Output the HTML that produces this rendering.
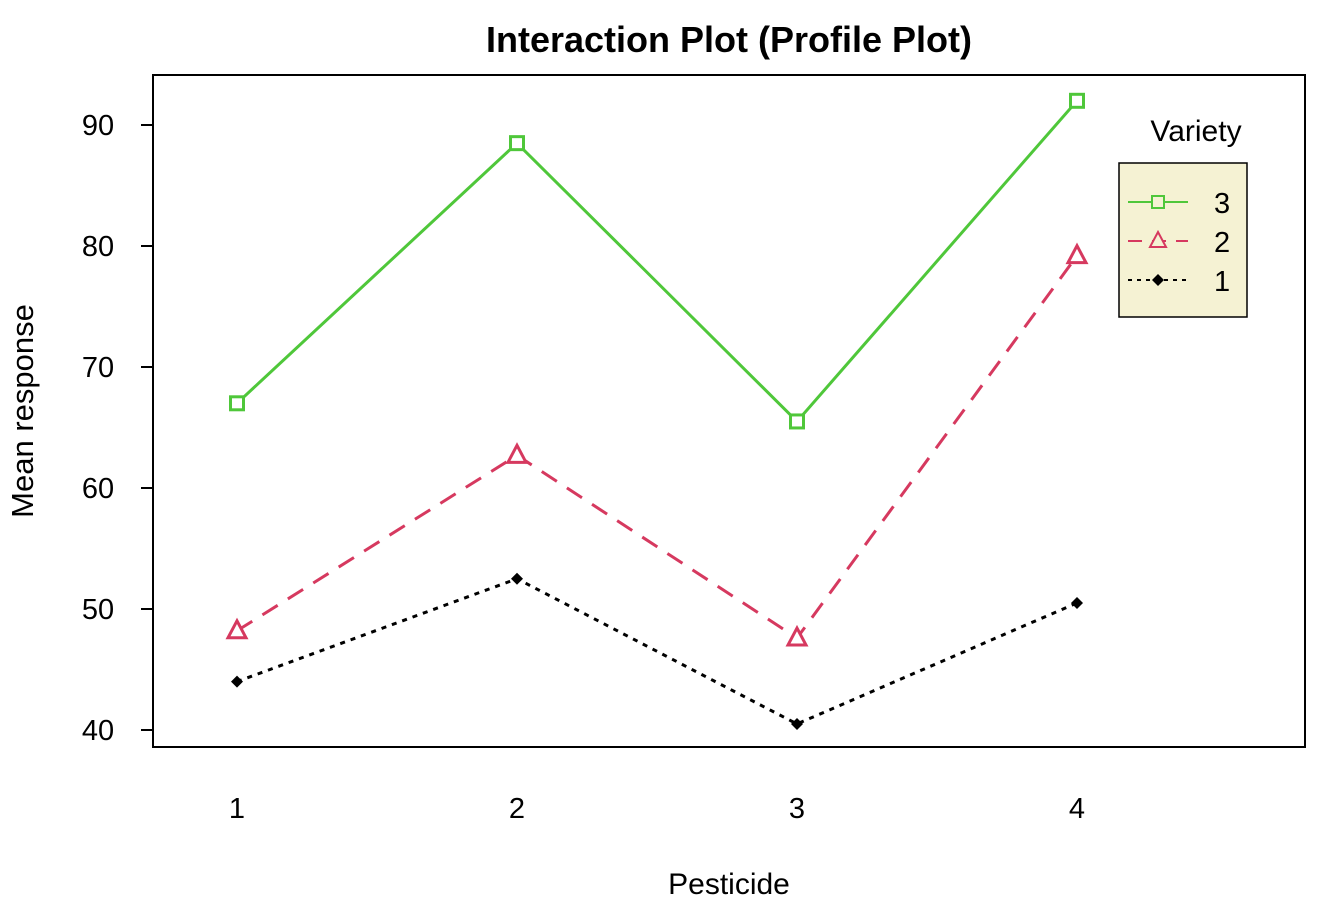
<!DOCTYPE html>
<html><head><meta charset="utf-8"><style>body{margin:0;background:#fff}svg{display:block;font-family:"Liberation Sans",Arial,sans-serif}</style></head>
<body>
<svg id="chart" width="1344" height="902" viewBox="0 0 1344 902">
<text x="729" y="52" font-size="36" font-weight="bold" text-anchor="middle">Interaction Plot (Profile Plot)</text>
<rect x="153" y="75" width="1152" height="672" fill="none" stroke="#000" stroke-width="2"/>
<g id="yaxis"></g>
<g id="xaxis"></g>
<text x="729" y="894" font-size="30" text-anchor="middle">Pesticide</text>
<text transform="translate(33,411) rotate(-90)" font-size="31" text-anchor="middle">Mean response</text>
<g id="series"></g>
<text x="1196" y="141" font-size="30" text-anchor="middle">Variety</text>
<g>
<rect x="1119" y="163" width="128" height="154" fill="#f5f2d3" stroke="#000" stroke-width="1.5"/>
<g><line x1="1128" y1="202" x2="1188" y2="202" stroke="#4fc73a" stroke-width="2"/><rect x="1152" y="196" width="12" height="12" fill="#f5f2d3" stroke="#4fc73a" stroke-width="2"/><text x="1214" y="213" font-size="29">3</text></g>
<g><line x1="1128" y1="241" x2="1188" y2="241" stroke="#d6395f" stroke-width="2" stroke-dasharray="14,10"/><polygon points="1158,232 1166,247 1150,247" fill="#f5f2d3" stroke="#d6395f" stroke-width="2"/><text x="1214" y="252" font-size="29">2</text></g>
<g><line x1="1128" y1="280" x2="1188" y2="280" stroke="#000" stroke-width="2" stroke-dasharray="4,5"/><polygon points="1158,274 1164,280 1158,286 1152,280" fill="#000"/><text x="1214" y="291" font-size="29">1</text></g>
</g>
</svg>
<script>
const categories=["1","2","3","4"];
const yTicks=[40,50,60,70,80,90];
const variety3=[67,88.5,65.5,92];
const variety2=[48.2,62.7,47.6,79.2];
const variety1=[44,52.5,40.5,50.5];
const NS="http://www.w3.org/2000/svg";
function xS(i){return 237+i*280;}
function yS(v){return 730-(v-40)*12.1;}
function mk(t,a,p){const e=document.createElementNS(NS,t);for(const k in a)e.setAttribute(k,a[k]);p.appendChild(e);return e;}
const ya=document.getElementById('yaxis');
yTicks.forEach(v=>{
 const l=mk('line',{x1:141,x2:153,y1:yS(v),y2:yS(v),stroke:'#000','stroke-width':2},ya);
 
 
 const t=mk('text',{x:98,y:yS(v)+10,'font-size':29,'text-anchor':'middle'},ya);t.textContent=v;
 
 
});
const xa=document.getElementById('xaxis');
categories.forEach((c,i)=>{
 const t=mk('text',{x:xS(i),y:818,'font-size':29,'text-anchor':'middle'},xa);t.textContent=c;
 
 
});
const sg=document.getElementById('series');
const defs=[{d:variety3,c:'#4fc73a',dash:'',sh:'sq',n:'3'},{d:variety2,c:'#d6395f',dash:'18,12',sh:'tri',n:'2'},{d:variety1,c:'#000',dash:'5,6',sh:'dia',n:'1'}];
defs.forEach(s=>{
 const g=mk('g',{},sg);
 
 
 const pts=s.d.map((v,i)=>xS(i)+','+yS(v)).join(' ');
 const pl=mk('polyline',{points:pts,fill:'none',stroke:s.c,'stroke-width':3,'stroke-dasharray':s.dash},g);
 
 
 s.d.forEach((v,i)=>{
  const x=xS(i),y=yS(v);let m;
  if(s.sh==='sq')m=mk('rect',{x:x-6.5,y:y-6.5,width:13,height:13,fill:'#fff',stroke:s.c,'stroke-width':3},g);
  else if(s.sh==='tri')m=mk('polygon',{points:`${x},${y-10} ${x+9},${y+7} ${x-9},${y+7}`,fill:'#fff',stroke:s.c,'stroke-width':3},g);
  else m=mk('polygon',{points:`${x},${y-6} ${x+6},${y} ${x},${y+6} ${x-6},${y}`,fill:'#000'},g);
  
  
 });
});
</script>
</body></html>
